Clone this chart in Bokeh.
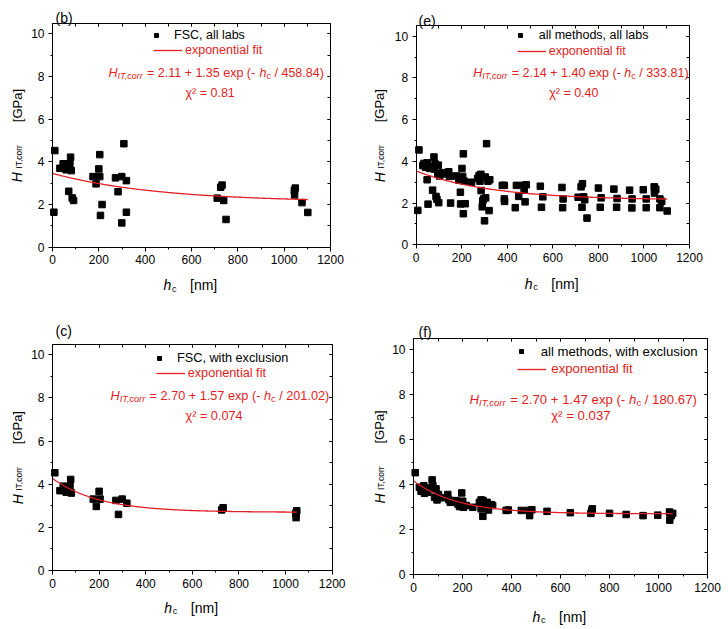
import numpy as np
from bokeh.plotting import figure
from bokeh.layouts import column, row
from bokeh.models import (Range1d, LinearAxis, SingleIntervalTicker, Label,
                          Legend, LegendItem)
from bokeh.embed import file_html
from bokeh.resources import INLINE

# ---------------- data ----------------
# (b) FSC, all labs
b_hc = [6, 10, 32, 46, 59, 70, 75, 78, 81, 85, 91, 175, 188, 200, 204, 204, 207, 214,
        272, 283, 299, 299, 308, 319, 319, 711, 726, 732, 739, 749, 1044, 1045, 1048,
        1077, 1102]
b_H = [1.64, 4.53, 3.70, 3.91, 3.63, 2.62, 3.91, 4.22, 3.59, 2.31, 2.19, 3.31, 2.97,
       3.67, 3.31, 4.34, 1.49, 2.00, 3.25, 2.60, 3.31, 1.14, 4.85, 3.12, 1.64, 2.30,
       2.81, 2.91, 2.19, 1.30, 2.66, 2.45, 2.77, 2.09, 1.63]
b_fit = [2.11, 1.35, 458.84]
b_chi = "0.81"

# (c) FSC, with exclusion
c_hc = [10, 32, 46, 59, 75, 78, 81, 175, 188, 200, 204, 272, 283, 299, 319, 726, 732,
        1044, 1045, 1048]
c_H = [4.53, 3.70, 3.91, 3.63, 3.91, 4.22, 3.59, 3.31, 2.97, 3.67, 3.31, 3.25, 2.60,
       3.31, 3.12, 2.81, 2.91, 2.66, 2.45, 2.77]
c_fit = [2.70, 1.57, 201.02]
c_chi = "0.074"

# (e) all methods, all labs
e_hc = [7, 12, 29, 34, 41, 48, 48, 52, 59, 66, 72, 78, 80, 83, 87, 91, 95, 97, 99, 103,
        114, 124, 143, 146, 151, 176, 187, 194, 195, 201, 204, 207, 207, 211, 215, 243,
        270, 276, 280, 284, 285, 290, 292, 296, 300, 303, 305, 309, 315, 320, 323,
        378, 387, 387, 388, 435, 440, 450, 470, 474, 478, 483, 545, 550, 556,
        640, 645, 643, 711, 724, 730, 728, 735, 740, 750, 800, 812, 808, 868, 882, 880,
        937, 948, 947, 997, 1010, 1010, 1045, 1048, 1046, 1052, 1070, 1070, 1078, 1102]
e_H = [1.65, 4.55, 3.80, 3.90, 3.72, 3.93, 3.12, 1.95, 3.66, 3.75, 2.62, 4.21, 3.63,
       3.88, 2.32, 2.18, 3.40, 3.82, 2.02, 3.30, 3.46, 3.40, 3.50, 3.28, 2.00, 3.30,
       3.10, 2.52, 1.96, 3.66, 3.28, 4.36, 1.49, 3.05, 1.97, 3.00, 3.18, 3.32, 3.05,
       3.38, 2.60, 1.82, 2.10, 2.20, 1.15, 3.25, 2.25, 4.85, 3.05, 1.64, 3.12,
       2.85, 2.85, 2.20, 2.08, 1.78, 2.85, 2.32, 2.85, 2.62, 2.06, 2.88, 2.81, 1.80, 2.30,
       2.75, 2.20, 1.78, 2.28, 2.78, 2.93, 1.80, 2.30, 2.16, 1.28, 2.72, 2.25, 1.80, 2.67,
       2.22, 1.80, 2.62, 2.20, 1.77, 2.64, 2.20, 1.78, 2.78, 2.70, 2.48, 2.65, 2.20, 1.78,
       2.08, 1.62]
e_fit = [2.14, 1.40, 333.81]
e_chi = "0.40"

# (f) all methods, with exclusion
f_hc = [7, 24, 31, 42, 45, 58, 63, 72, 76, 79, 86, 92, 96, 102, 113, 140, 144, 150, 174,
        181, 188, 194, 197, 201, 204, 215, 242, 269, 276, 276, 283, 284, 292, 300, 306,
        317, 323, 378, 387, 440, 470, 474, 483, 545, 640, 724, 728, 730, 800, 868, 937,
        997, 1045, 1048, 1046, 1052, 1058]
f_H = [4.53, 3.88, 3.70, 3.95, 3.61, 3.66, 3.85, 3.81, 4.21, 3.96, 3.44, 3.81, 3.32,
       3.56, 3.41, 3.56, 3.33, 3.21, 3.29, 3.14, 3.02, 3.21, 3.63, 3.26, 2.99, 3.07,
       2.99, 3.21, 3.32, 2.92, 2.59, 3.29, 3.11, 3.21, 2.87, 3.11, 3.07, 2.85, 2.87,
       2.85, 2.85, 2.62, 2.88, 2.81, 2.75, 2.72, 2.85, 2.92, 2.72, 2.67, 2.62, 2.64,
       2.78, 2.70, 2.42, 2.62, 2.72]
f_fit = [2.70, 1.47, 180.67]
f_chi = "0.037"

X_MAX = 1200
Y_MAX = 10.5
x_ticks_step = 200
y_ticks_step = 2

# ---------------- styling helpers ----------------
RED = "#e31e24"
FONT = "Liberation Sans"

AW = {' ': 278, '!': 278, '(': 333, ')': 333, '+': 584, ',': 278, '-': 333, '.': 278,
      '/': 278, ':': 278, '=': 584, '[': 278, ']': 278, 'χ': 520, '²': 333}
for ch in "0123456789":
    AW[ch] = 556
AW.update(dict(A=667, B=667, C=722, D=722, E=667, F=611, G=778, H=722, I=278, J=500,
               K=667, L=556, M=833, N=722, O=778, P=667, Q=778, R=722, S=667, T=611,
               U=722, V=667, W=944, X=667, Y=667, Z=611))
AW.update(dict(a=556, b=556, c=500, d=556, e=556, f=278, g=556, h=556, i=222, j=222,
               k=500, l=222, m=833, n=556, o=556, p=556, q=556, r=333, s=500, t=278,
               u=556, v=500, w=722, x=500, y=500, z=500))


def tw(s, size):
    return sum(AW.get(ch, 556) for ch in s) * size / 1000.0


def put(p, text, x, y, size, style="normal", color="black", angle=0.0):
    p.add_layout(Label(x=x, y=y, x_units="screen", y_units="screen", text=text,
                       text_font=FONT, text_font_size=f"{size}px",
                       text_font_style=style, text_color=color,
                       text_align="left", text_baseline="alphabetic", angle=angle))


def put_seq(p, parts, x, y, color):
    adv = 0.0
    for text, size, style, shift in parts:
        stripped = text.lstrip(" ")
        lead = tw(text[:len(text) - len(stripped)], size)
        put(p, stripped.rstrip(" "), x + adv + lead, y + shift, size, style, color)
        adv += tw(text, size)


def style_axis(ax, out, labels=True):
    ax.axis_line_color = "black"
    ax.major_tick_line_color = "black"
    ax.minor_tick_line_color = "black"
    if out:
        ax.major_tick_out, ax.major_tick_in = 4, 0
        ax.minor_tick_out, ax.minor_tick_in = 2, 0
    else:
        ax.major_tick_out, ax.major_tick_in = 0, 3
        ax.minor_tick_out, ax.minor_tick_in = 0, 3
    if labels:
        ax.major_label_text_font = FONT
        ax.major_label_text_font_size = "12px"
        ax.major_label_text_color = "black"
        ax.major_label_standoff = 4
    else:
        ax.major_label_text_color = None


def make_panel(tag, hc, H, fit, chi, name, W, Hh, box, geo):
    L, R, T, B = box            # inner plot box in figure pixels (T, B from top)
    bw, bh = R - L, B - T
    sx = bw / X_MAX
    sy = bh / Y_MAX
    ox, oy = L, Hh - B          # box bottom-left, measured from figure bottom-left
    p = figure(width=W, height=Hh,
               x_range=Range1d(-ox / sx, (W - ox) / sx),
               y_range=Range1d(-oy / sy, (Hh - oy) / sy),
               output_backend="svg", toolbar_location=None, title=None,
               x_axis_location=None, y_axis_location=None,
               min_border=0, min_border_left=0, min_border_right=0,
               min_border_top=0, min_border_bottom=0)
    p.grid.visible = False
    p.outline_line_color = None
    p.background_fill_color = "white"
    p.border_fill_color = "white"

    def ticker(step):
        return SingleIntervalTicker(interval=step, num_minor_ticks=2)

    bottom = LinearAxis(ticker=ticker(x_ticks_step), fixed_location=0, bounds=(0, X_MAX))
    left = LinearAxis(ticker=ticker(y_ticks_step), fixed_location=0, bounds=(0, Y_MAX))
    top = LinearAxis(ticker=ticker(x_ticks_step), fixed_location=Y_MAX, bounds=(0, X_MAX))
    right = LinearAxis(ticker=ticker(y_ticks_step), fixed_location=X_MAX, bounds=(0, Y_MAX))
    style_axis(bottom, True)
    style_axis(left, True)
    style_axis(top, False, labels=False)
    style_axis(right, False, labels=False)
    p.add_layout(bottom, "below")
    p.add_layout(left, "left")
    p.add_layout(top, "above")
    p.add_layout(right, "right")

    pts = p.scatter(hc, H, marker="square", size=6.5, color="black")
    xs = np.linspace(0, max(hc), 300)
    ys = fit[0] + fit[1] * np.exp(-xs / fit[2])
    ln = p.line(xs, ys, line_color=RED, line_width=1.3)

    fs = geo["fs"]
    sq_x, sq_y, t1 = geo["row1"]
    l0, l1, ly, t2 = geo["row2"]
    gw1 = 10
    leg1 = Legend(items=[LegendItem(label=name, renderers=[pts])],
                  location=(ox + sq_x - gw1 / 2, oy + sq_y - 6), padding=0, margin=0,
                  spacing=0, glyph_width=gw1, glyph_height=12, label_height=12,
                  label_standoff=int(round(t1 - (sq_x + gw1 / 2))),
                  label_text_font=FONT, label_text_font_size=f"{fs}px",
                  label_text_color="black", background_fill_alpha=0,
                  border_line_alpha=0)
    leg2 = Legend(items=[LegendItem(label="exponential fit", renderers=[ln])],
                  location=(ox + l0, oy + ly - 6), padding=0, margin=0, spacing=0,
                  glyph_width=int(round(l1 - l0)), glyph_height=12, label_height=12,
                  label_standoff=int(round(t2 - l1)),
                  label_text_font=FONT, label_text_font_size=f"{fs}px",
                  label_text_color=RED, background_fill_alpha=0,
                  border_line_alpha=0)
    p.add_layout(leg1)
    p.add_layout(leg2)

    ex, ey = geo["eq"]
    sub = fs * 0.72
    sh = -fs * 0.25
    parts = [("H", fs, "italic", 0), ("IT,corr", sub, "italic", sh),
             (f" = {fit[0]:.2f} + {fit[1]:.2f} exp (- ", fs, "normal", 0),
             ("h", fs, "italic", 0), ("c", sub, "normal", sh),
             (f" / {fit[2]:.2f})", fs, "normal", 0)]
    put_seq(p, parts, ox + ex, oy + ey, RED)
    cx, cy = geo["chi"]
    put(p, f"χ² = {chi}", ox + cx, oy + cy, fs, "normal", RED)

    # panel tag
    put(p, f"({tag})", ox + geo["tag"][0], oy + bh + geo["tag"][1], 14, "normal", "black")

    # x axis label: h_c   [nm]
    xs0 = ox + bw / 2 - 28
    xb = oy - geo["xlab"]
    put(p, "h", xs0, xb, 14, "italic")
    put(p, "c", xs0 + 8.5, xb - 3.5, 9, "normal")
    put(p, "[nm]", xs0 + 26.5, xb, 14, "normal")

    # y axis label: H_IT,corr   [GPa]  (rotated)
    ang = np.pi / 2
    yb = ox + geo["ylab"]
    ys0 = oy + bh / 2 - 2 - 45
    put(p, "H", yb, ys0, 14, "italic", angle=ang)
    put(p, "IT,corr", yb + 1.5, ys0 + 13.5, 8.5, "normal", angle=ang)
    put(p, "[GPa]", yb, ys0 + 60, 13, "normal", angle=ang)
    return p


geo_b = dict(fs=12.5, row1=(104, 211, 122), row2=(101, 130, 195.5, 133),
             eq=(56, 174), chi=(133, 154.5), tag=(3, 5), xlab=38, ylab=-35.3)
geo_e = dict(fs=12.5, row1=(104, 208.6, 123), row2=(101, 130, 192.6, 133),
             eq=(57, 171.5), chi=(133, 152), tag=(2.3, 5.3), xlab=39, ylab=-36.7)
geo_c = dict(fs=12.7, row1=(107, 211, 124.7), row2=(103.7, 133, 196, 136),
             eq=(58, 175), chi=(133, 155), tag=(3, 13.5), xlab=37.3, ylab=-35)
geo_f = dict(fs=13.2, row1=(107.7, 221.3, 127.7), row2=(104.3, 133.7, 204, 138.7),
             eq=(56, 175.3), chi=(137.7, 159.3), tag=(5, 7), xlab=42, ylab=-34)

pb = make_panel("b", b_hc, b_H, b_fit, b_chi, "FSC, all labs", 364, 300,
                (52, 330, 22.7, 246.7), geo_b)
pe = make_panel("e", e_hc, e_H, e_fit, e_chi, "all methods, all labs", 364, 300,
                (51.7, 325, 25.3, 244.3), geo_e)
pc = make_panel("c", c_hc, c_H, c_fit, c_chi, "FSC, with exclusion", 364, 328,
                (52, 331.7, 43.5, 270), geo_c)
pf = make_panel("f", f_hc, f_H, f_fit, f_chi, "all methods, with exclusion", 364, 328,
                (49, 343, 38, 274), geo_f)

layout = column(row(pb, pe), row(pc, pf))
open("out.html", "w").write(file_html(layout, INLINE))
